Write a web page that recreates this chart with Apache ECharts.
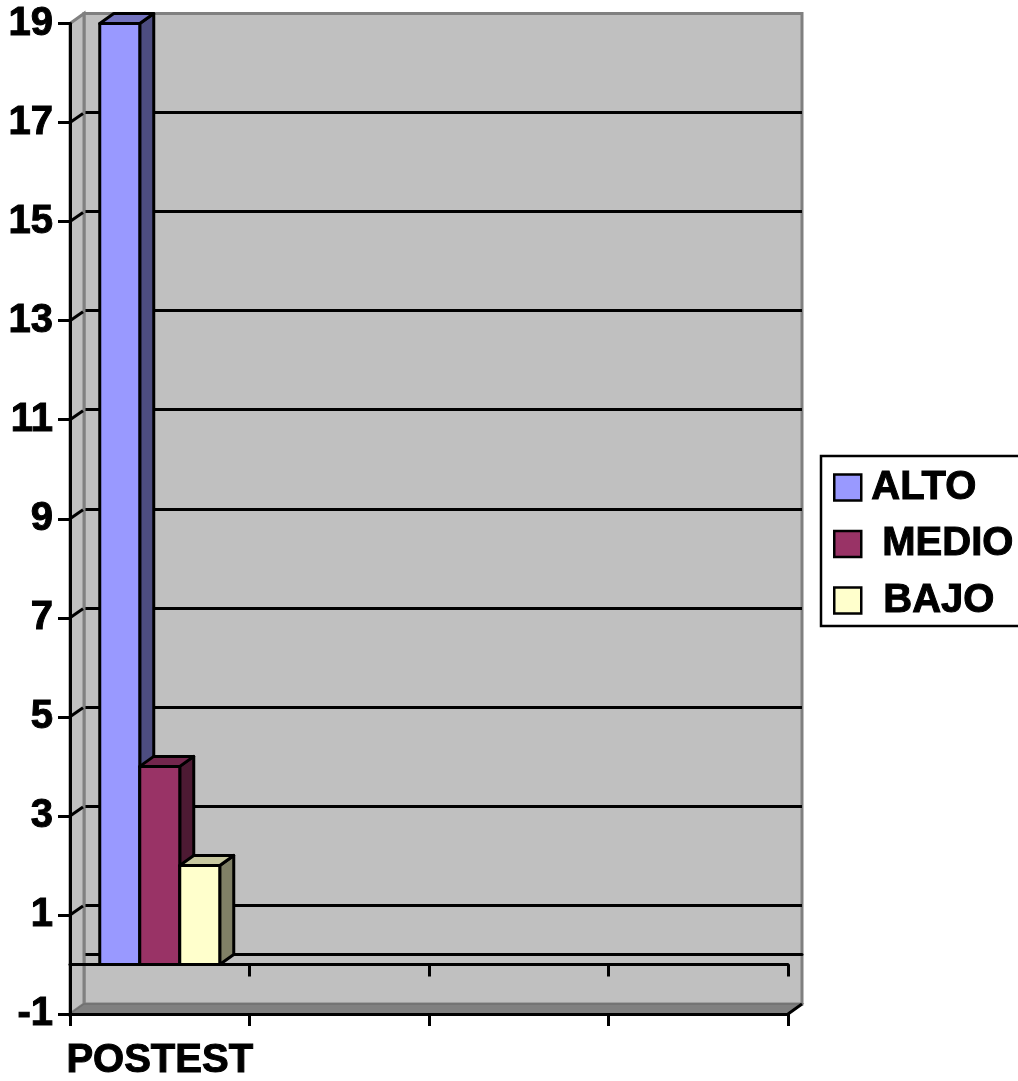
<!DOCTYPE html>
<html>
<head>
<meta charset="utf-8">
<style>html,body{margin:0;padding:0;background:#fff;overflow:hidden}#chart{width:1018px;height:1081px}</style>
<script src="https://cdn.jsdelivr.net/npm/echarts@6/dist/echarts.min.js"></script>
</head>
<body>
<div id="chart"></div>
<script>
const categories = ['POSTEST', '', '', ''];
const alto = [19];
const medio = [4];
const bajo = [2];
const yMin = -1;
const yMax = 19;
const yStep = 2;
const yTicks = [-1, 1, 3, 5, 7, 9, 11, 13, 15, 17, 19];

// Oblique projection used for the box: how far the back wall sits from the front plane.
const DX = 14, DY = -10;
const BAR_W = 40;
const LINE = 3;
const FONT = 'Liberation Sans, Arial, sans-serif';
const HEAVY = { textBorderColor: '#000', textBorderWidth: 1 };

// One prism (front, side, top) for a bar in a clustered group of three.
function prism(index, front, side, top) {
  return function (params, api) {
    const base = api.coord([api.value(0), 0]);
    const head = api.coord([api.value(0), api.value(1)]);
    const left = base[0] + (index - 1.5) * BAR_W;
    const right = left + BAR_W;
    const stroke = { stroke: '#000', lineWidth: LINE, lineJoin: 'round' };
    return {
      type: 'group',
      children: [
        { type: 'polygon', shape: { points: [[right, head[1]], [right + DX, head[1] + DY], [right + DX, base[1] + DY], [right, base[1]]] }, style: { fill: side, ...stroke } },
        { type: 'polygon', shape: { points: [[left, head[1]], [left + DX, head[1] + DY], [right + DX, head[1] + DY], [right, head[1]]] }, style: { fill: top, ...stroke } },
        { type: 'polygon', shape: { points: [[left, head[1]], [right, head[1]], [right, base[1]], [left, base[1]]] }, style: { fill: front, ...stroke } }
      ]
    };
  };
}

function barSeries(name, values, index, front, side, top) {
  return {
    name, type: 'custom', xAxisIndex: 0, yAxisIndex: 0, z: 3, clip: false,
    encode: { x: 0, y: 1 },
    itemStyle: { color: front, borderColor: '#000', borderWidth: 2 },
    data: values.map((v, i) => [i, v]),
    renderItem: prism(index, front, side, top)
  };
}

// Left wall, floor and the slanted tick marks that connect the front axis to the back wall.
function renderBox(params, api) {
  const band = api.size([1, 0])[0];
  const bl = api.coord([0, yMin]);
  const tl = api.coord([0, yMax]);
  const x0 = bl[0] - band / 2;
  const x1 = x0 + band * categories.length;
  const grey = '#808080';
  const children = [
    { type: 'polygon', shape: { points: [[x0, tl[1]], [x0 + DX, tl[1] + DY], [x0 + DX, bl[1] + DY], [x0, bl[1]]] }, style: { fill: '#c0c0c0', stroke: grey, lineWidth: 3 } },
    { type: 'polygon', shape: { points: [[x0, bl[1]], [x0 + DX, bl[1] + DY], [x1 + DX, bl[1] + DY], [x1, bl[1]]] }, style: { fill: grey, stroke: '#707070', lineWidth: 1.5 } }
  ];
  yTicks.forEach(function (t) {
    if (t === yMin || t === yMax) return;
    const y = api.coord([0, t])[1];
    children.push({ type: 'line', shape: { x1: x0, y1: y, x2: x0 + DX - 1, y2: y + DY + 1 }, style: { stroke: '#000', lineWidth: LINE } });
  });
  // Black edge at the right end of the floor
  children.push({ type: 'line', shape: { x1: x1, y1: bl[1], x2: x1 + DX, y2: bl[1] + DY }, style: { stroke: '#000', lineWidth: LINE } });
  return { type: 'group', children };
}

const chart = echarts.init(document.getElementById('chart'), null, { renderer: 'canvas' });
chart.setOption({
  animation: false,
  backgroundColor: '#fff',
  textStyle: { fontFamily: FONT },
  grid: [
    { left: 70, top: 23.5, width: 718, height: 990.5, containLabel: false, outerBoundsMode: 'none' },
    { left: 84, top: 13.5, width: 718, height: 990.5, show: true, backgroundColor: '#c0c0c0', borderColor: '#808080', borderWidth: 3, outerBoundsMode: 'none' }
  ],
  xAxis: [
    {
      gridIndex: 0, type: 'category', data: categories, position: 'bottom', z: 5,
      axisLine: { onZero: false, lineStyle: { color: '#000', width: LINE } },
      axisTick: { show: true, length: 12, alignWithLabel: false, interval: 0, lineStyle: { color: '#000', width: LINE } },
      axisLabel: { interval: 0, margin: 27, color: '#000', fontSize: 40, fontWeight: 'bold', fontFamily: FONT, ...HEAVY }
    },
    {
      gridIndex: 0, type: 'category', data: categories, position: 'bottom', z: 5,
      axisLine: { onZero: true, lineStyle: { color: '#000', width: LINE } },
      axisTick: { show: true, length: 12, alignWithLabel: false, interval: 0, lineStyle: { color: '#000', width: LINE } },
      axisLabel: { show: false }
    },
    {
      gridIndex: 1, type: 'category', data: categories, position: 'bottom',
      axisLine: { onZero: true, lineStyle: { color: '#000', width: LINE } },
      axisTick: { show: false }, axisLabel: { show: false }
    }
  ],
  yAxis: [
    {
      gridIndex: 0, type: 'value', min: yMin, max: yMax, interval: yStep, z: 5,
      axisLine: { show: true, onZero: false, lineStyle: { color: '#000', width: LINE } },
      axisTick: { show: true, length: 12, lineStyle: { color: '#000', width: LINE } },
      axisLabel: { margin: 17, color: '#000', fontSize: 40, fontWeight: 'bold', fontFamily: FONT, padding: [7, 0, 0, 0], showMinLabel: true, showMaxLabel: true, ...HEAVY },
      splitLine: { show: false }
    },
    {
      gridIndex: 1, type: 'value', min: yMin, max: yMax, interval: yStep,
      axisLine: { show: false }, axisTick: { show: false }, axisLabel: { show: false },
      splitLine: { show: true, showMinLine: false, showMaxLine: false, lineStyle: { color: '#000', width: LINE } }
    }
  ],
  legend: {
    orient: 'vertical', left: 821, top: 456, padding: [11, 20, 5, 12], itemGap: 15.5,
    itemWidth: 27, itemHeight: 26, borderColor: '#000', borderWidth: 2.5, backgroundColor: '#fff',
    selectedMode: false, icon: 'rect',
    textStyle: { color: '#000', fontSize: 40, fontWeight: 'bold', fontFamily: FONT, ...HEAVY },
    data: [
      { name: 'ALTO', textStyle: { padding: [12, 0, 0, 5] }, itemStyle: { color: '#9999ff', borderColor: '#000', borderWidth: 2.5 } },
      { name: 'MEDIO', textStyle: { padding: [12, 0, 0, 16] }, itemStyle: { color: '#993366', borderColor: '#000', borderWidth: 2.5 } },
      { name: 'BAJO', textStyle: { padding: [12, 0, 0, 17] }, itemStyle: { color: '#ffffcc', borderColor: '#000', borderWidth: 2.5 } }
    ]
  },
  series: [
    {
      type: 'custom', xAxisIndex: 0, yAxisIndex: 0, z: 1, clip: false, silent: true,
      data: [[0, yMin]], encode: { x: 0, y: 1 }, renderItem: renderBox
    },
    barSeries('ALTO', alto, 0, '#9999ff', '#4d4d80', '#7373bf'),
    barSeries('MEDIO', medio, 1, '#993366', '#4d1a33', '#73264d'),
    barSeries('BAJO', bajo, 2, '#ffffcc', '#808066', '#c8c8a0')
  ]
});
</script>
</body>
</html>
